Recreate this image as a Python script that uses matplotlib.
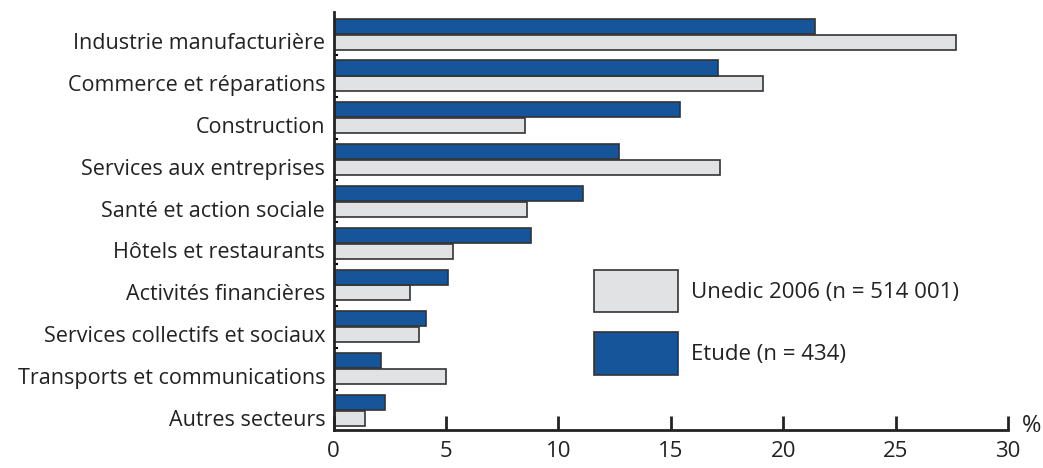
import numpy as np
import matplotlib
matplotlib.use('Agg')
import matplotlib.pyplot as plt

# Secteurs d'activité
secteurs = ['Industrie manufacturière', 'Commerce et réparations', 'Construction',
            'Services aux entreprises', 'Santé et action sociale', 'Hôtels et restaurants',
            'Activités financières', 'Services collectifs et sociaux',
            'Transports et communications', 'Autres secteurs']
etude = [21.4, 17.1, 15.4, 12.7, 11.1, 8.8, 5.1, 4.1, 2.1, 2.3]
unedic = [27.7, 19.1, 8.5, 17.2, 8.6, 5.3, 3.4, 3.8, 5.0, 1.4]
xticks = [0, 5, 10, 15, 20, 25, 30]

plt.rcParams['font.family'] = ['Open Sans', 'DejaVu Sans']
blue = '#17559b'
grey = '#e1e2e4'
edge = '#333333'
txt = '#222222'

fig = plt.figure(figsize=(10.43, 4.68), dpi=100)
ax = fig.add_axes([0.3198, 0.081, 0.6466, 0.893])

y = np.arange(len(secteurs))
h = 0.36
ax.barh(y + 0.19, unedic, height=h, color=grey, edgecolor=edge, linewidth=1.2,
        label='Unedic 2006 (n = 514 001)')
ax.barh(y - 0.19, etude, height=h, color=blue, edgecolor=edge, linewidth=1.2,
        label='Etude (n = 434)')

ax.set_xlim(0, 30)
ax.set_ylim(9.47, -0.526)
ax.set_xticks(xticks)
ax.set_xticklabels([str(t) for t in xticks], fontsize=16, color=txt)
ax.set_yticks(y + 0.17)
ax.set_yticklabels(secteurs, fontsize=15.5, color=txt)
ax.set_yticks(y[:-1] + 0.5, minor=True)

for s in ['top', 'right']:
    ax.spines[s].set_visible(False)
for s in ['left', 'bottom']:
    ax.spines[s].set_linewidth(2)
    ax.spines[s].set_color(txt)
ax.tick_params(axis='x', direction='in', length=10, width=2, pad=8, color=txt)
ax.tick_params(axis='y', which='major', length=0, pad=6)
ax.tick_params(axis='y', which='minor', direction='in', length=3, width=1.5)

ax.text(1.02, 0.01, '%', transform=ax.transAxes, fontsize=17, color=txt,
        va='center', ha='left')

leg = ax.legend(loc='upper left', bbox_to_anchor=(0.386, 0.383), frameon=False,
                fontsize=16, handlelength=3.8, handleheight=2.55, labelspacing=0.9,
                handletextpad=0.55, borderpad=0, borderaxespad=0)
for t in leg.get_texts():
    t.set_color(txt)

fig.text(0.0, 1.025, '(en %)', color=blue, fontsize=15, fontweight='bold',
         va='center', ha='left')

fig.savefig('out.png', dpi=100)
